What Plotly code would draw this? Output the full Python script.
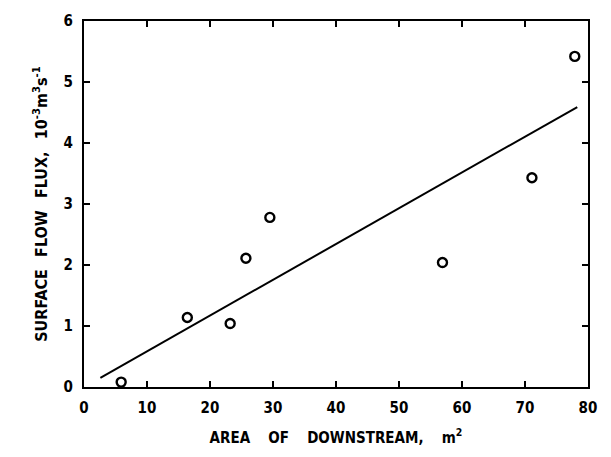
import plotly.graph_objects as go

# Data
area = [5.9, 16.4, 23.2, 25.7, 29.5, 56.9, 71.1, 77.9]
flux = [0.08, 1.14, 1.04, 2.11, 2.78, 2.04, 3.43, 5.42]

fit_x = [2.6, 78.3]
fit_y = [0.15, 4.59]

x_ticks = [0, 10, 20, 30, 40, 50, 60, 70, 80]
y_ticks = [0, 1, 2, 3, 4, 5, 6]

FONT = "DejaVu Sans Condensed, DejaVu Sans, sans-serif"

fig = go.Figure()
fig.add_trace(go.Scatter(x=fit_x, y=fit_y, mode="lines",
                         line=dict(color="black", width=2), showlegend=False))
fig.add_trace(go.Scatter(x=area, y=flux, mode="markers",
                         marker=dict(symbol="circle-open", size=9, color="black",
                                     line=dict(width=2.4, color="black")),
                         showlegend=False, cliponaxis=False))

axis_common = dict(showline=True, linecolor="black", linewidth=2, mirror="allticks",
                   ticks="inside", ticklen=6, tickwidth=2, tickcolor="black",
                   showgrid=False, zeroline=False,
                   tickfont=dict(family=FONT, size=15, color="black", weight="bold"))

fig.update_xaxes(range=[0, 80], tickvals=x_ticks, ticktext=[str(v) for v in x_ticks],
                 ticklabelstandoff=6,
                 title=dict(text="AREA\u2003 OF\u2003 DOWNSTREAM,\u2003 m<sup>2</sup>",
                            font=dict(family=FONT, size=15, color="black", weight="bold"),
                            standoff=16),
                 **axis_common)
fig.update_yaxes(range=[0, 6], tickvals=y_ticks, ticktext=[str(v) for v in y_ticks],
                 ticklabelstandoff=6,
                 title=dict(text="SURFACE\u2002 FLOW\u2002 FLUX,\u2002 10<sup>-3</sup>m<sup>3</sup>s<sup>-1</sup>",
                            font=dict(family=FONT, size=16, color="black", weight="bold"),
                            standoff=12),
                 **axis_common)

fig.update_layout(width=611, height=457,
                  margin=dict(l=84, r=23, t=15, b=70),
                  paper_bgcolor="white", plot_bgcolor="white")

fig.write_html("out.html")
